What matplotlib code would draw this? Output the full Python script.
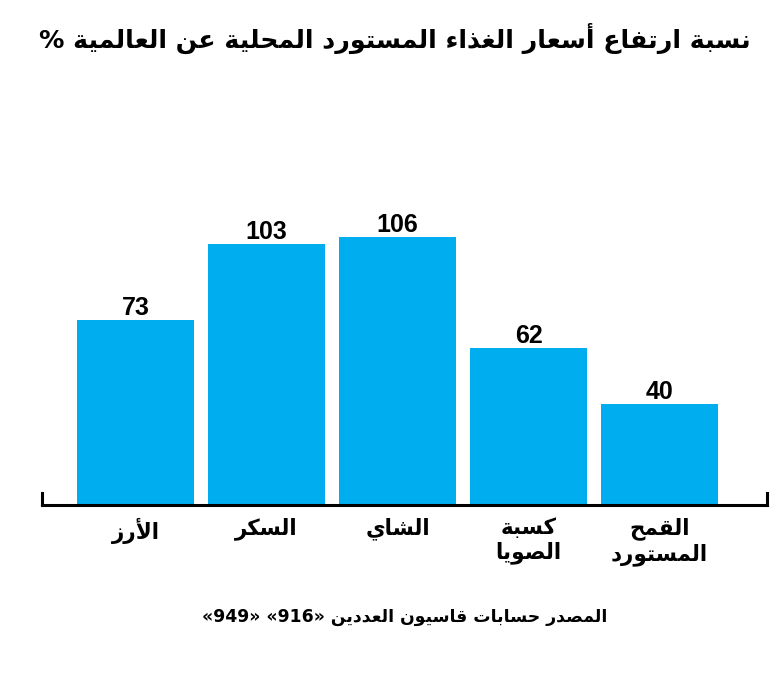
import re
import matplotlib
matplotlib.use("Agg")
import matplotlib.pyplot as plt

# ---------------- data ----------------
categories = ["الأرز", "السكر", "الشاي", "كسبة\nالصويا", "القمح\nالمستورد"]
values = [73, 103, 106, 62, 40]
title_text = "نسبة ارتفاع أسعار الغذاء المستورد المحلية عن العالمية %"
source_text = "المصدر حسابات قاسيون العددين «916» «949»"

# ---------------- minimal Arabic shaping ----------------
FORMS = {
    '\u0621': (0xFE80,), '\u0622': (0xFE81, 0xFE82), '\u0623': (0xFE83, 0xFE84),
    '\u0624': (0xFE85, 0xFE86), '\u0625': (0xFE87, 0xFE88),
    '\u0626': (0xFE89, 0xFE8A, 0xFE8B, 0xFE8C), '\u0627': (0xFE8D, 0xFE8E),
    '\u0628': (0xFE8F, 0xFE90, 0xFE91, 0xFE92), '\u0629': (0xFE93, 0xFE94),
    '\u062A': (0xFE95, 0xFE96, 0xFE97, 0xFE98), '\u062B': (0xFE99, 0xFE9A, 0xFE9B, 0xFE9C),
    '\u062C': (0xFE9D, 0xFE9E, 0xFE9F, 0xFEA0), '\u062D': (0xFEA1, 0xFEA2, 0xFEA3, 0xFEA4),
    '\u062E': (0xFEA5, 0xFEA6, 0xFEA7, 0xFEA8), '\u062F': (0xFEA9, 0xFEAA),
    '\u0630': (0xFEAB, 0xFEAC), '\u0631': (0xFEAD, 0xFEAE), '\u0632': (0xFEAF, 0xFEB0),
    '\u0633': (0xFEB1, 0xFEB2, 0xFEB3, 0xFEB4), '\u0634': (0xFEB5, 0xFEB6, 0xFEB7, 0xFEB8),
    '\u0635': (0xFEB9, 0xFEBA, 0xFEBB, 0xFEBC), '\u0636': (0xFEBD, 0xFEBE, 0xFEBF, 0xFEC0),
    '\u0637': (0xFEC1, 0xFEC2, 0xFEC3, 0xFEC4), '\u0638': (0xFEC5, 0xFEC6, 0xFEC7, 0xFEC8),
    '\u0639': (0xFEC9, 0xFECA, 0xFECB, 0xFECC), '\u063A': (0xFECD, 0xFECE, 0xFECF, 0xFED0),
    '\u0641': (0xFED1, 0xFED2, 0xFED3, 0xFED4), '\u0642': (0xFED5, 0xFED6, 0xFED7, 0xFED8),
    '\u0643': (0xFED9, 0xFEDA, 0xFEDB, 0xFEDC), '\u0644': (0xFEDD, 0xFEDE, 0xFEDF, 0xFEE0),
    '\u0645': (0xFEE1, 0xFEE2, 0xFEE3, 0xFEE4), '\u0646': (0xFEE5, 0xFEE6, 0xFEE7, 0xFEE8),
    '\u0647': (0xFEE9, 0xFEEA, 0xFEEB, 0xFEEC), '\u0648': (0xFEED, 0xFEEE),
    '\u0649': (0xFEEF, 0xFEF0), '\u064A': (0xFEF1, 0xFEF2, 0xFEF3, 0xFEF4),
}
LAM_ALEF = {'\u0622': (0xFEF5, 0xFEF6), '\u0623': (0xFEF7, 0xFEF8),
            '\u0625': (0xFEF9, 0xFEFA), '\u0627': (0xFEFB, 0xFEFC)}


def dual(c):
    return c in FORMS and len(FORMS[c]) == 4


def joins_right(c):
    return c in FORMS and len(FORMS[c]) >= 2


def shape_line(s):
    out = []
    i = 0
    n = len(s)
    while i < n:
        c = s[i]
        if c not in FORMS:
            out.append(c)
            i += 1
            continue
        prev = s[i - 1] if i > 0 else ''
        cp = dual(prev)
        if c == '\u0644' and i + 1 < n and s[i + 1] in LAM_ALEF:
            f = LAM_ALEF[s[i + 1]]
            out.append(chr(f[1] if cp else f[0]))
            i += 2
            continue
        nxt = s[i + 1] if i + 1 < n else ''
        cn = joins_right(nxt)
        f = FORMS[c]
        if len(f) == 4:
            if cp and cn:
                g = f[3]
            elif cp:
                g = f[1]
            elif cn:
                g = f[2]
            else:
                g = f[0]
        elif len(f) == 2:
            g = f[1] if cp else f[0]
        else:
            g = f[0]
        out.append(chr(g))
        i += 1
    vis = ''.join(out)[::-1]
    vis = re.sub(r'[0-9]+', lambda m: m.group()[::-1], vis)
    vis = vis.translate(str.maketrans({'«': '»', '»': '«'}))
    return vis


def ar(s):
    return '\n'.join(shape_line(line) for line in s.split('\n'))


# ---------------- figure ----------------
W, H = 781, 675
fig = plt.figure(figsize=(W / 100, H / 100), dpi=100)
fig.patch.set_facecolor('white')

ax_left = 42 / W
ax_right = 767 / W
ax_bottom = 1 - 505 / H
ax_top = 1 - 67 / H
ax = fig.add_axes([ax_left, ax_bottom, ax_right - ax_left, ax_top - ax_bottom])

x = list(range(len(values)))
bars = ax.bar(x, values, width=0.893, color='#00ADEE', zorder=2)

ax.set_xlim(-0.714, 4.82)
ax.set_ylim(0, 173)

ax.spines['top'].set_visible(False)
for s in ['bottom', 'left', 'right']:
    ax.spines[s].set_linewidth(2.2)
    ax.spines[s].set_color('black')
ax.spines['left'].set_bounds(0, 4.8)
ax.spines['right'].set_bounds(0, 4.8)

ax.set_yticks([])
ax.set_xticks(x)
ax.set_xticklabels([ar(c) for c in categories], fontsize=15.5, fontweight='bold',
                   family=['DejaVu Sans'], linespacing=1.2, va='top')
ax.tick_params(axis='x', length=0, pad=9)

for b, v in zip(bars, values):
    ax.annotate(str(v), (b.get_x() + b.get_width() / 2, v), xytext=(0, 0),
                textcoords='offset points', ha='center', va='bottom',
                fontsize=18, fontweight='bold', family=['Liberation Sans', 'DejaVu Sans'])

fig.text(395 / W, 1 - 38 / H, ar(title_text), ha='center', va='center',
         fontsize=18.2, fontweight='bold', family=['DejaVu Sans'])
fig.text(405 / W, 1 - 617 / H, ar(source_text), ha='center', va='center',
         fontsize=12.4, fontweight='bold', family=['DejaVu Sans'])

fig.savefig('out.png', dpi=100, facecolor='white')
